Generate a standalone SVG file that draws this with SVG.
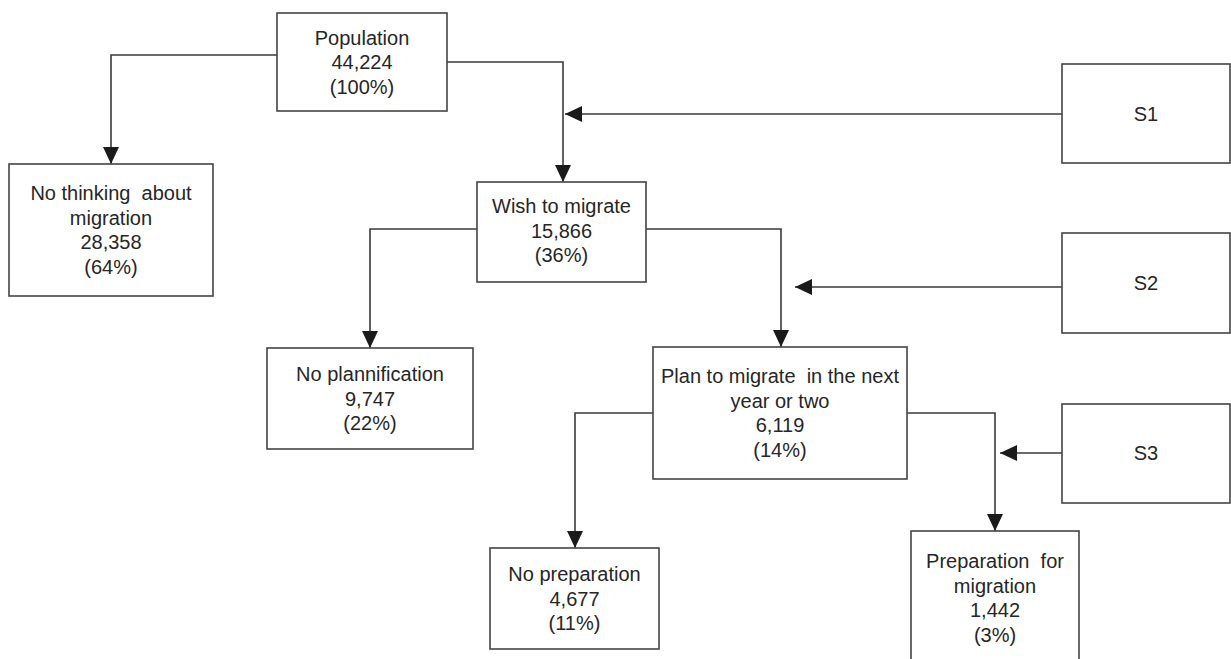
<svg xmlns="http://www.w3.org/2000/svg" width="1231" height="659" viewBox="0 0 1231 659">
<defs>
<marker id="arr" viewBox="0 0 17 16" refX="17" refY="8" markerWidth="17" markerHeight="16" markerUnits="userSpaceOnUse" orient="auto">
<path d="M0,0 L17,8 L0,16 z" fill="#1a1a1a"/>
</marker>
<style>
.box{fill:#fff;stroke:#444;stroke-width:1.6}
.t{font-family:"Liberation Sans",Arial,sans-serif;font-size:20px;fill:#262626;text-anchor:middle}
.c{fill:none;stroke:#3a3a3a;stroke-width:1.6;marker-end:url(#arr)}
</style>
</defs>
<rect width="1231" height="659" fill="#fff"/>
<g id="connectors">
<path class="c" d="M277,55 H111 V164"/>
<path class="c" d="M447,62 H563 V182"/>
<path class="c" d="M1062,114 H565"/>
<path class="c" d="M477,229 H370 V348"/>
<path class="c" d="M646,229 H781 V347"/>
<path class="c" d="M1062,287 H795"/>
<path class="c" d="M653,413 H575 V548"/>
<path class="c" d="M907,413 H995 V531"/>
<path class="c" d="M1062,453 H1000"/>
</g>
<g id="population">
<rect class="box" x="277" y="13" width="170" height="98"/>
<text class="t" x="362" y="44.5">Population<tspan x="362" dy="24.5">44,224</tspan><tspan x="362" dy="24.5">(100%)</tspan></text>
</g>
<g id="no-thinking">
<rect class="box" x="9" y="164" width="204" height="132"/>
<text class="t" x="111" y="200" xml:space="preserve">No thinking  about<tspan x="111" dy="24.5">migration</tspan><tspan x="111" dy="24.5">28,358</tspan><tspan x="111" dy="24.5">(64%)</tspan></text>
</g>
<g id="wish">
<rect class="box" x="477" y="182" width="169" height="100"/>
<text class="t" x="561.5" y="213">Wish to migrate<tspan x="561.5" dy="24.5">15,866</tspan><tspan x="561.5" dy="24.5">(36%)</tspan></text>
</g>
<g id="no-plannification">
<rect class="box" x="267" y="348" width="206" height="101"/>
<text class="t" x="370" y="381">No plannification<tspan x="370" dy="24.5">9,747</tspan><tspan x="370" dy="24.5">(22%)</tspan></text>
</g>
<g id="plan">
<rect class="box" x="653" y="347" width="254" height="132"/>
<text class="t" x="780" y="383" xml:space="preserve">Plan to migrate  in the next<tspan x="780" dy="24.5">year or two</tspan><tspan x="780" dy="24.5">6,119</tspan><tspan x="780" dy="24.5">(14%)</tspan></text>
</g>
<g id="no-preparation">
<rect class="box" x="490" y="548" width="169" height="101"/>
<text class="t" x="574.5" y="581">No preparation<tspan x="574.5" dy="24.5">4,677</tspan><tspan x="574.5" dy="24.5">(11%)</tspan></text>
</g>
<g id="preparation">
<rect class="box" x="911" y="531" width="168" height="140"/>
<text class="t" x="995" y="568" xml:space="preserve">Preparation  for<tspan x="995" dy="24.5">migration</tspan><tspan x="995" dy="24.5">1,442</tspan><tspan x="995" dy="24.5">(3%)</tspan></text>
</g>
<g id="s1">
<rect class="box" x="1062" y="64" width="168" height="99"/>
<text class="t" x="1146" y="121">S1</text>
</g>
<g id="s2">
<rect class="box" x="1062" y="233" width="168" height="100"/>
<text class="t" x="1146" y="290">S2</text>
</g>
<g id="s3">
<rect class="box" x="1062" y="404" width="168" height="99"/>
<text class="t" x="1146" y="460">S3</text>
</g>
</svg>
